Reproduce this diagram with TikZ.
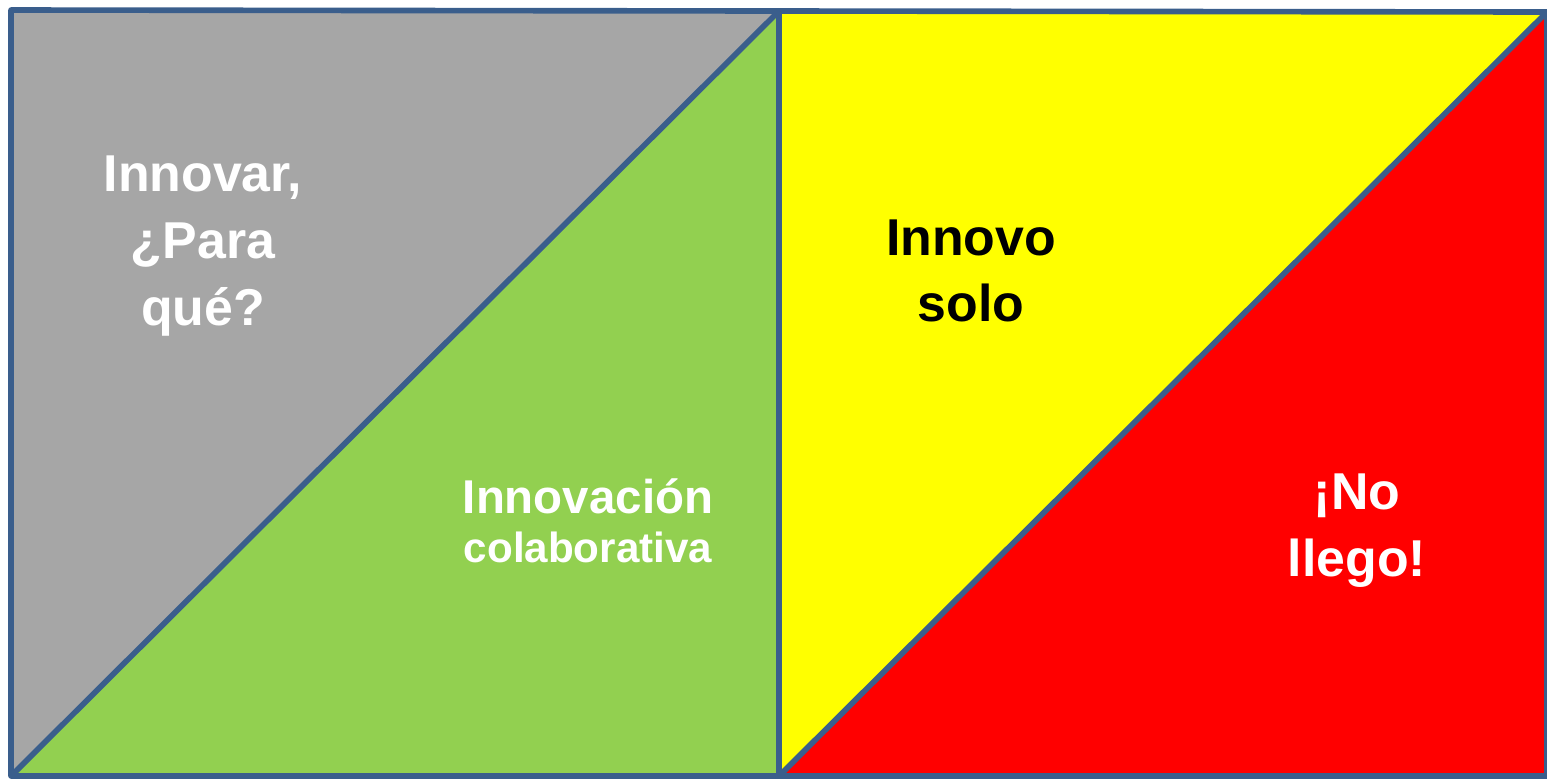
\documentclass[tikz,border=0pt]{standalone}
\usepackage{fontspec}
\setmainfont{Liberation Sans}
\usepackage{tikz}
\usetikzlibrary{calc,positioning}
\definecolor{myframe}{RGB}{58,94,140}
\definecolor{mygray}{RGB}{166,166,166}
\definecolor{mygreen}{RGB}{146,208,80}
\definecolor{myyellow}{RGB}{255,255,0}
\definecolor{myred}{RGB}{255,0,0}
\tikzstyle{frame}=[draw=myframe,line width=3.2pt,line join=round]
\tikzstyle{bigtext}=[align=center,inner sep=0pt,font=\bfseries\fontsize{29.5}{38}\selectfont]

\begin{document}
\begin{tikzpicture}[x=0.02cm,y=-0.02cm]
\useasboundingbox (0,0) rectangle (1547,779);
% corners of the two squares
\coordinate (ltl) at (11,10);
\coordinate (lbl) at (11,776);
\coordinate (mt) at (779,11);
\coordinate (mb) at (779,776);
\coordinate (rtr) at (1547,12);
\coordinate (rbr) at (1547,776);
% triangles
\fill[mygray] (ltl) -- (mt) -- (lbl) -- cycle;
\fill[mygreen] (lbl) -- (mt) -- (mb) -- cycle;
\fill[myyellow] (mt) -- (rtr) -- (mb) -- cycle;
\fill[myred] (mb) -- (rtr) -- (rbr) -- cycle;
% outlines
\draw[frame] (ltl) -- (mt) -- (mb) -- (lbl) -- cycle;
\draw[frame] (mt) -- (rtr) -- (rbr) -- (mb);
\draw[frame] (lbl) -- (mt);
\draw[frame] (mb) -- (rtr);
% labels
\node[bigtext,text=white] (para) at (203,246) {Innovar,\\¿Para\\qué?};
\node[bigtext] (solo) at (971,271) {Innovo\\solo};
\node[bigtext,text=white] (llego) at (1357,531) {¡No\\llego!};
\node[anchor=base,inner sep=0pt,text=white,font=\bfseries\fontsize{27}{28}\selectfont] (innov) at (588,513) {Innovación};
\node[anchor=base,inner sep=0pt,text=white,font=\bfseries\fontsize{24}{28}\selectfont] (colab) at ($(innov.base)+(0,49)$) {colaborativa};
\end{tikzpicture}
\end{document}
